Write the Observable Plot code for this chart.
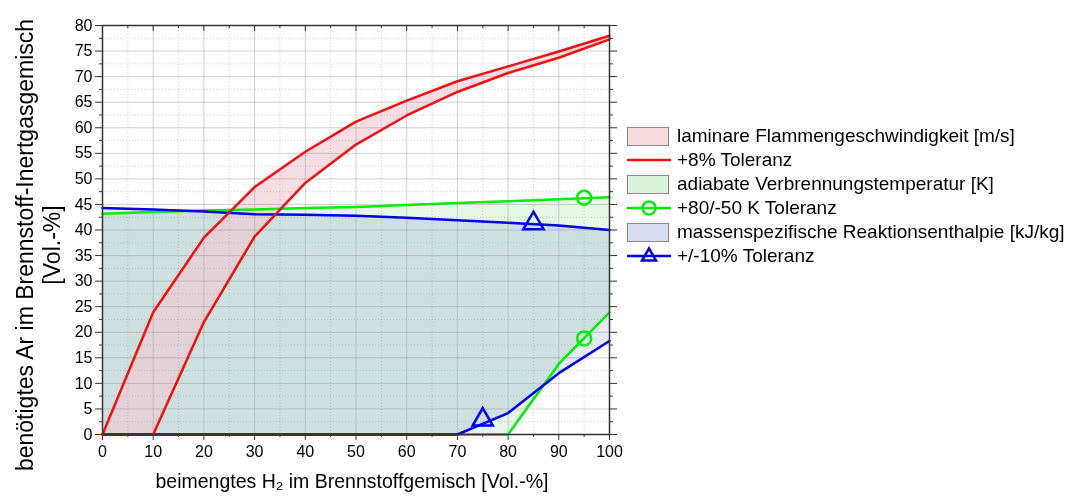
<!DOCTYPE html>
<html>
<head>
<meta charset="utf-8">
<script src="https://cdn.jsdelivr.net/npm/d3@7"></script>
<script src="https://cdn.jsdelivr.net/npm/@observablehq/plot@0.6"></script>
<style>
  body { margin: 0; background: white; font-family: "Liberation Sans", Arial, sans-serif; }
  #wrap { position: relative; width: 1076px; height: 499px; }
  #legend { position: absolute; left: 627px; top: 124px; font-size: 19px; color: #000; white-space: nowrap; }
  .row { display: flex; align-items: center; height: 24px; }
  .sw { width: 42px; height: 19px; box-sizing: border-box; border: 1px solid #8a8a8a; margin-right: 8px; }
  .ln { width: 44px; height: 20px; margin-right: 6px; }
</style>
</head>
<body>
<div id="wrap"><div id="chart"></div><div id="legend"></div></div>
<script>
// x positions: beimengtes H2 [Vol.-%]
const xs = [0, 10, 20, 30, 40, 50, 60, 70, 80, 90, 100];
// laminare Flammengeschwindigkeit band (+8% Toleranz)
const redUpper = [0, 23.9, 38.5, 48.4, 55.3, 61.2, 65.3, 69.1, 72.0, 74.9, 78.0];
const redLower = [0, 0, 22.0, 38.7, 49.2, 56.7, 62.4, 67.0, 70.7, 73.7, 77.3];
// adiabate Verbrennungstemperatur band (+80/-50 K)
const greenUpper = [43.2, 43.5, 43.8, 44.0, 44.3, 44.5, 44.9, 45.3, 45.6, 46.0, 46.4];
const greenLower = [0, 0, 0, 0, 0, 0, 0, 0, 0, 13.8, 23.9];
// massenspezifische Reaktionsenthalpie band (+/-10%)
const blueUpper = [44.3, 44.0, 43.6, 43.1, 43.0, 42.8, 42.4, 41.9, 41.4, 40.9, 40.0];
const blueLower = [0, 0, 0, 0, 0, 0, 0, 0, 4.2, 12.0, 18.3];
// markers
const greenMarkX = [95, 95];
const greenMarkY = [46.3, 18.8];
const blueMarkX = [85, 75];
const blueMarkY = [41.3, 2.9];
// ticks
const xMajor = [0, 10, 20, 30, 40, 50, 60, 70, 80, 90, 100];
const xMinor = [5, 15, 25, 35, 45, 55, 65, 75, 85, 95];
const yMajor = [0, 5, 10, 15, 20, 25, 30, 35, 40, 45, 50, 55, 60, 65, 70, 75, 80];
const yMinor = [2.5, 7.5, 12.5, 17.5, 22.5, 27.5, 32.5, 37.5, 42.5, 47.5, 52.5, 57.5, 62.5, 67.5, 72.5, 77.5];
// labels
const xLabel = "beimengtes H₂ im Brennstoffgemisch [Vol.-%]";
const yLabel = "benötigtes Ar im Brennstoff-Inertgasgemisch\n[Vol.-%]";
const legendLabels = [
  "laminare Flammengeschwindigkeit [m/s]",
  "+8% Toleranz",
  "adiabate Verbrennungstemperatur [K]",
  "+80/-50 K Toleranz",
  "massenspezifische Reaktionsenthalpie [kJ/kg]",
  "+/-10% Toleranz"
];

const rows = xs.map((x, i) => ({
  x, rU: redUpper[i], rL: redLower[i], gU: greenUpper[i], gL: greenLower[i], bU: blueUpper[i], bL: blueLower[i]
}));
const redLowerLine = rows.slice(1);
const gMarks = greenMarkX.map((x, i) => ({x, y: greenMarkY[i]}));
const bMarks = blueMarkX.map((x, i) => ({x, y: blueMarkY[i]}));

const RED = "#f01010", GREEN = "#00ee00", BLUE = "#0000ee";
const W = 1076, H = 499, mT = 25, mB = 65, mL = 102, mR = 467;
const plotH = H - mT - mB;
const blank = () => "";

const chart = Plot.plot({
  width: W, height: H,
  marginLeft: mL, marginRight: mR, marginTop: mT, marginBottom: mB,
  x: {domain: [0, 100]},
  y: {domain: [0, 80]},
  style: {fontFamily: "'Liberation Sans', Arial, sans-serif", fontSize: "16px", color: "#000", background: "white"},
  marks: [
    Plot.areaY(rows, {x: "x", y1: "bL", y2: "bU", fill: "#e4e8f8", mixBlendMode: "multiply"}),
    Plot.areaY(rows, {x: "x", y1: "gL", y2: "gU", fill: "#e6f7e6", mixBlendMode: "multiply"}),
    Plot.areaY(rows, {x: "x", y1: "rL", y2: "rU", fill: "#f0c6d0", fillOpacity: 0.6}),
    Plot.gridX({ticks: xMinor, stroke: "#888", strokeOpacity: 0.35, strokeDasharray: "1,2"}),
    Plot.gridY({ticks: yMinor, stroke: "#888", strokeOpacity: 0.35, strokeDasharray: "1,2"}),
    Plot.gridX({ticks: xMajor, stroke: "#999", strokeOpacity: 0.45}),
    Plot.gridY({ticks: yMajor, stroke: "#999", strokeOpacity: 0.45}),
    Plot.axisX({ticks: xMajor, tickSize: 6, tickPadding: 5, fontSize: 16, stroke: "#333", label: null}),
    Plot.axisX({ticks: xMinor, tickSize: 3, tickFormat: blank, stroke: "#333", label: null}),
    Plot.axisY({ticks: yMajor, tickSize: 7, tickPadding: 3, fontSize: 16, stroke: "#333", label: null}),
    Plot.axisY({ticks: yMinor, tickSize: 3, tickFormat: blank, stroke: "#333", label: null}),
    Plot.axisY({anchor: "right", ticks: yMajor, tickSize: 7, tickFormat: blank, stroke: "#333", label: null}),
    Plot.axisY({anchor: "right", ticks: yMinor, tickSize: 3, tickFormat: blank, stroke: "#333", label: null}),
    Plot.tickX(xMajor, {x: d => d, insetBottom: plotH - 6, stroke: "#333"}),
    Plot.tickX(xMinor, {x: d => d, insetBottom: plotH - 3, stroke: "#333"}),
    Plot.line(rows, {x: "x", y: "gU", stroke: GREEN, strokeWidth: 2.5}),
    Plot.line(rows, {x: "x", y: "gL", stroke: GREEN, strokeWidth: 2.5}),
    Plot.line(rows, {x: "x", y: "bU", stroke: BLUE, strokeWidth: 2.5}),
    Plot.line(rows, {x: "x", y: "bL", stroke: BLUE, strokeWidth: 2.5}),
    Plot.line(rows, {x: "x", y: "rU", stroke: RED, strokeWidth: 2.5}),
    Plot.line(redLowerLine, {x: "x", y: "rL", stroke: RED, strokeWidth: 2.5}),
    Plot.dot(gMarks, {x: "x", y: "y", r: 7, stroke: GREEN, strokeWidth: 2.5, fill: "none"}),
    Plot.dot(bMarks, {x: "x", y: "y", r: 7.5, symbol: "triangle", stroke: BLUE, strokeWidth: 2.5, fill: "none"}),
    Plot.frame({stroke: "#333", strokeWidth: 1.5}),
    Plot.text([xLabel], {text: d => d, frameAnchor: "bottom", dx: -4, dy: 53, fontSize: 19.5}),
    Plot.text([yLabel], {text: d => d, frameAnchor: "left", textAnchor: "middle", rotate: -90, dx: -65, dy: 15, fontSize: 23, lineHeight: 1.17})
  ]
});
document.getElementById("chart").appendChild(chart);

// legend
const legend = document.getElementById("legend");
const swatches = [
  {type: "box", fill: "#f6dcde"},
  {type: "line", color: RED},
  {type: "box", fill: "#dcf2dc"},
  {type: "line", color: GREEN, marker: "circle"},
  {type: "box", fill: "#d8daf0"},
  {type: "line", color: BLUE, marker: "triangle"}
];
legendLabels.forEach((label, i) => {
  const s = swatches[i];
  const row = document.createElement("div");
  row.className = "row";
  if (s.type === "box") {
    const b = document.createElement("div");
    b.className = "sw";
    b.style.background = s.fill;
    row.appendChild(b);
  } else {
    let m = "";
    if (s.marker === "circle") m = `<circle cx="22" cy="10" r="6.5" fill="none" stroke="${s.color}" stroke-width="2.5"/>`;
    if (s.marker === "triangle") m = `<path d="M22,2.5 L29,14.5 L15,14.5 Z" fill="none" stroke="${s.color}" stroke-width="2.5"/>`;
    row.insertAdjacentHTML("beforeend",
      `<svg class="ln" width="44" height="20"><line x1="0" y1="10" x2="44" y2="10" stroke="${s.color}" stroke-width="2.5"/>${m}</svg>`);
  }
  const t = document.createElement("span");
  t.textContent = label;
  row.appendChild(t);
  legend.appendChild(row);
});
</script>
</body>
</html>
